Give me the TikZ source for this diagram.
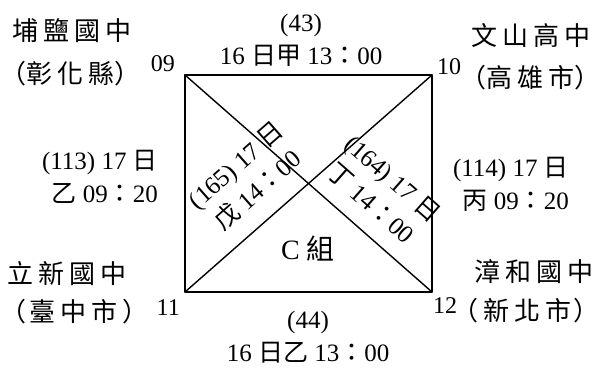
\documentclass[tikz,border=0pt]{standalone}
\usepackage{fontspec}
\setmainfont{Liberation Serif}
\newfontfamily\cjk{Noto Sans CJK TC}
\newcommand{\zh}[1]{{\cjk #1}}
\newcommand{\gapz}{\kern5pt}

\begin{document}
\begin{tikzpicture}[x=1pt,y=-1pt,line join=round,line cap=round,
  lbl/.style={font=\fontsize{25}{33}\selectfont,inner sep=0pt},
  num/.style={font=\fontsize{24}{28}\selectfont,inner sep=0pt},
  school/.style={font=\cjk\fontsize{26}{30}\selectfont,inner sep=0pt,anchor=west}]
  \useasboundingbox (0,0) rectangle (600,367);
  % corners of the group
  \coordinate (c09) at (185,75);
  \coordinate (c10) at (432,75);
  \coordinate (c11) at (185,292);
  \coordinate (c12) at (432,292);
  \draw[line width=1.8pt] (c09) -- (c10) -- (c12) -- (c11) -- cycle;
  \draw[line width=1.4pt] (c09) -- (c12);
  \draw[line width=1.4pt] (c10) -- (c11);
  % team numbers
  \node[num,anchor=base east] (n09) at ([xshift=-10pt,yshift=4pt]c09) {09};
  \node[num,anchor=base west] (n10) at ([xshift=5pt,yshift=1pt]c10) {10};
  \node[num,anchor=base east] (n11) at ([xshift=-5pt,yshift=-23pt]c11) {11};
  \node[num,anchor=base west] (n12) at ([xshift=1pt,yshift=-21pt]c12) {12};
  % schools
  \node[school] (s09) at (12,31) {埔\gapz 鹽\gapz 國\gapz 中};
  \node[school] (t09) at (0,74) {（彰\gapz 化\gapz 縣）};
  \node[school] (s10) at (471,36) {文\gapz 山\gapz 高\gapz 中};
  \node[school] (t10) at (460,78) {（高\gapz 雄\gapz 市）\kern-8pt};
  \node[school] (s11) at (7,274) {立\gapz 新\gapz 國\gapz 中};
  \node[school] (t11) at (0,312) {（\kern3pt 臺\gapz 中\gapz 市\gapz ）\kern-8pt};
  \node[school] (s12) at (474,272) {漳\gapz 和\gapz 國\gapz 中};
  \node[school] (t12) at (452,311) {（\gapz 新\gapz 北\gapz 市\kern2pt ）\kern-12pt};
  % games
  \node[lbl,align=center] (e43) at (301,40) {(43)\\16 \zh{日甲} 13\zh{：}00};
  \node[lbl,align=center] (e44) at (308,337) {(44)\\16 \zh{日乙} 13\zh{：}00};
  \node[lbl,align=right,anchor=east] (e113) at (158,177) {(113) 17 \zh{日}\\\zh{乙} 09\zh{：}20};
  \node[lbl,align=right,anchor=east] (e114) at (569,184) {(114) 17 \zh{日}\\\zh{丙} 09\zh{：}20};
  \node[lbl,align=center,rotate=41.3] (d165) at (247,178) {(165) 17 \zh{日}\\\zh{戊} 14\zh{：}00};
  \node[lbl,align=center,rotate=-41.3] (d164) at (382,191) {(164) 17 \zh{日}\\\zh{丁} 14\zh{：}00};
  \node[lbl,font=\fontsize{28}{30}\selectfont] (grp) at (308,249) {C \zh{組}};
\end{tikzpicture}
\end{document}
